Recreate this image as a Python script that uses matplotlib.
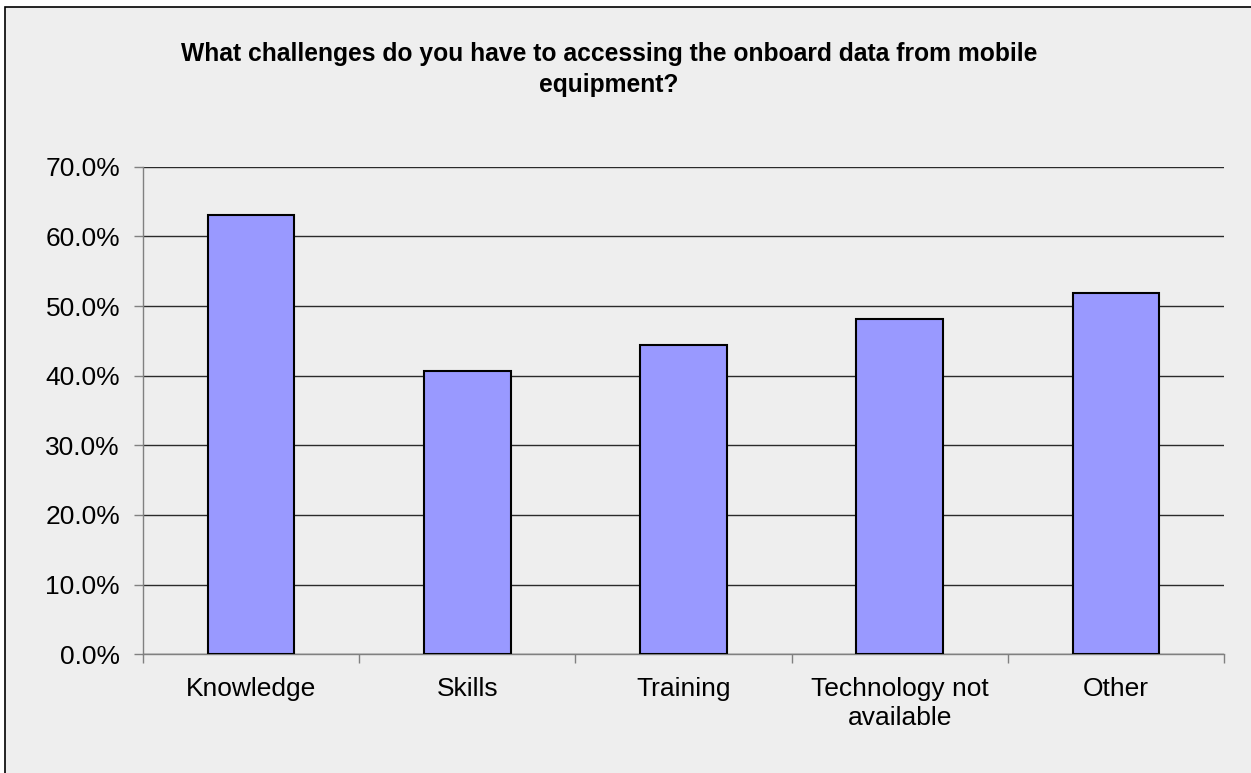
import numpy as np
import matplotlib.pyplot as plt
from matplotlib.patches import Rectangle
from matplotlib.ticker import FuncFormatter

plt.rcParams['font.family'] = ['Liberation Sans', 'DejaVu Sans']

# Survey answers (share of respondents)
categories = ['Knowledge', 'Skills', 'Training', 'Technology not\navailable', 'Other']
shares = [63.0, 40.7, 44.4, 48.1, 51.9]
y_ticks = [0, 10, 20, 30, 40, 50, 60, 70]
title_lines = ['What challenges do you have to accessing the onboard data from mobile',
               'equipment?']

W, H = 1251, 773
fig = plt.figure(figsize=(W / 100, H / 100), dpi=100, facecolor='white')

# chart area panel with its border (runs off the right and bottom edges)
fig.patches.append(Rectangle((5 / W, -0.1), 1.0, 1.1 - 7 / H, transform=fig.transFigure,
                             facecolor='#EEEEEE', edgecolor='black', linewidth=1.2, zorder=-5))

ax = fig.add_axes([143 / W, 1 - 654.3 / H, (1224 - 143) / W, (654.3 - 166.7) / H])
ax.patch.set_alpha(0)

x = np.arange(len(categories))
ax.bar(x, shares, width=0.4, color='#9999FF', edgecolor='black', linewidth=1.5, zorder=3)

ax.set_xlim(-0.5, len(categories) - 0.5)
ax.set_ylim(0, 70)
ax.set_yticks(y_ticks)
ax.yaxis.set_major_formatter(FuncFormatter(lambda v, p: f'{v:.1f}%'))
ax.grid(axis='y', color='#2a2a2a', linewidth=1.0, zorder=1)
ax.set_axisbelow(True)

ax.set_xticks(x)
ax.set_xticklabels(categories, linespacing=1.29)
ax.set_xticks(np.arange(len(categories) + 1) - 0.5, minor=True)
ax.tick_params(axis='x', which='major', length=0, pad=16, labelsize=19)
ax.tick_params(axis='x', which='minor', length=6.5, color='#808080', width=1)
ax.tick_params(axis='y', length=6.5, color='#808080', width=1, pad=10, labelsize=19)

for side in ['top', 'right']:
    ax.spines[side].set_visible(False)
for side in ['left', 'bottom']:
    ax.spines[side].set_color('#808080')
    ax.spines[side].set_linewidth(1.0)

for line, y_px in zip(title_lines, [61, 92]):
    fig.text(609 / W, 1 - y_px / H, line, ha='center', va='baseline', fontsize=17.7,
             fontweight='bold')

fig.savefig('out.png', dpi=100, facecolor=fig.get_facecolor())
